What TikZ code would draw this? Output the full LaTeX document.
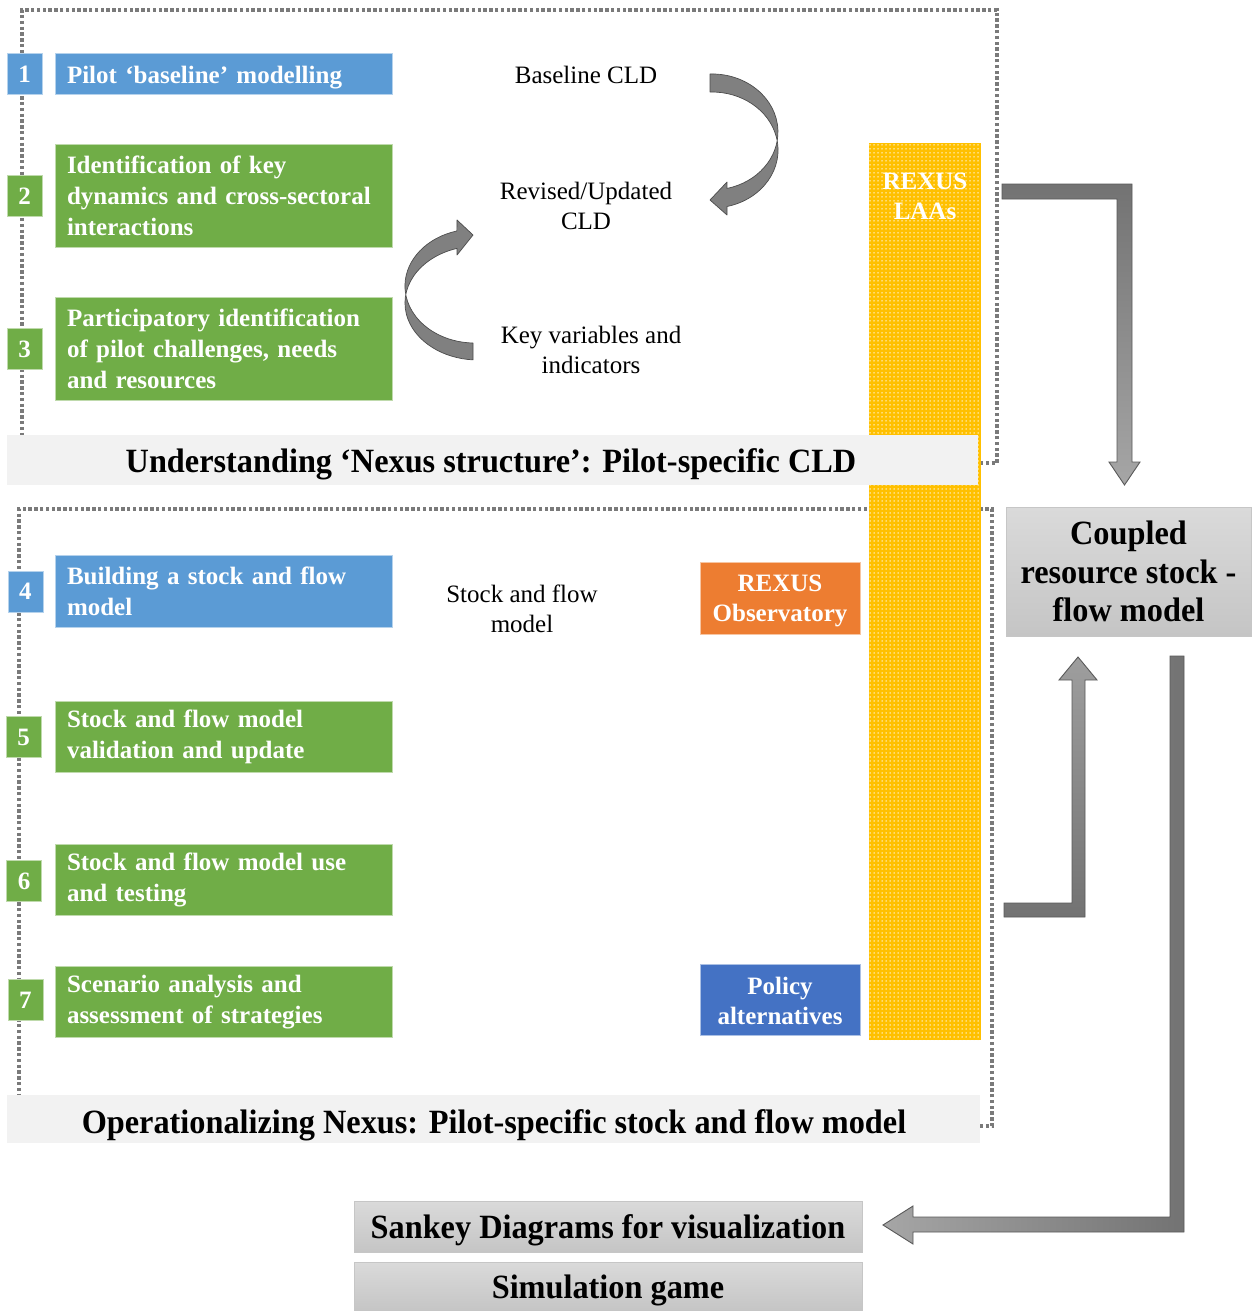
\documentclass[tikz,border=0pt]{standalone}
\usepackage{fontspec}
\setmainfont{Liberation Serif}
\newfontfamily\headfont{Liberation Serif}[FakeStretch=0.95]
\usetikzlibrary{patterns}

% white dot raster for the LAA column
\pgfdeclarepatternformonly{wdots}{\pgfpoint{-1pt}{-1pt}}{\pgfpoint{5pt}{5pt}}{\pgfpoint{4pt}{4pt}}%
  {\pgfpathcircle{\pgfpoint{2pt}{2pt}}{0.75pt}\pgfusepath{fill}}

\definecolor{stepblue}{HTML}{5B9BD5}
\definecolor{stepgreen}{HTML}{70AD47}
\definecolor{obsorange}{HTML}{ED7D31}
\definecolor{polblue}{HTML}{4472C4}
\definecolor{laayellow}{HTML}{FFC000}
\definecolor{barbg}{HTML}{F2F2F2}
\definecolor{dotgray}{HTML}{7A7A7A}
\definecolor{arrowgray}{HTML}{808080}
\definecolor{boxtop}{HTML}{DADADA}
\definecolor{boxbot}{HTML}{C5C5C5}

\tikzset{
  frameline/.style={draw=dotgray, line width=3.4pt, dash pattern=on 3.4pt off 2.4pt},
  stepbox/.style={draw=white!55!#1, line width=0.8pt, fill=#1, text=white,
    font=\bfseries\fontsize{25}{31}\selectfont, align=left,
    text width=313pt, inner xsep=12pt, inner ysep=0pt, minimum width=337pt},
  numbox/.style={draw=white!55!#1, line width=0.8pt, fill=#1, text=white,
    font=\bfseries\fontsize{25}{30}\selectfont,
    minimum width=35pt, minimum height=41pt, inner sep=0pt},
  tagbox/.style={fill=#1, draw=white!55!#1, line width=0.8pt,
    minimum width=160pt, inner sep=0pt},
  tagtext/.style={text=white, font=\bfseries\fontsize{25}{30}\selectfont,
    align=center, inner sep=0pt},
  titlebar/.style={fill=barbg, draw=none, inner sep=0pt},
  titletext/.style={inner sep=0pt, text height=26pt, text depth=0pt,
    font=\headfont\bfseries\fontsize{34}{38}\selectfont},
  plainlabel/.style={font=\fontsize{25}{30}\selectfont, align=center, inner sep=0pt},
  greybox/.style={top color=boxtop, bottom color=boxbot, draw=gray!45,
    line width=0.8pt, inner sep=0pt, align=center,
    font=\headfont\bfseries\fontsize{34}{38.5}\selectfont},
  curvearrow/.style={fill=arrowgray, draw=black!70, line width=0.7pt, line join=round},
  blockarrow/.style={draw=black!65, line width=0.9pt, line join=miter},
}

\begin{document}
\begin{tikzpicture}[x=1pt, y=-1pt]
\useasboundingbox (0,0) rectangle (1251,1311);

% dotted section frames
\draw[frameline] (980,463) -- (997,463) -- (997,10) -- (22,10) -- (22,440);
\draw[frameline] (980,1126) -- (992,1126) -- (992,509) -- (19,509) -- (19,1095);

% Local Action Agents column
\node[fill=laayellow, minimum width=112pt, minimum height=897pt, inner sep=0pt] (laa) at (925,591.5) {};
\fill[pattern=wdots, pattern color=white!92!laayellow] (laa.north west) rectangle (laa.south east);
\node[tagtext] (laatxt) at (925,196) {REXUS\\LAAs};

% section titles
\node[titlebar, minimum width=971pt, minimum height=50pt] (t1) at (492.5,460) {};
\node[titletext] (t1txt) at (491,459) {Understanding ‘Nexus structure’: Pilot-specific CLD};
\node[titlebar, minimum width=973pt, minimum height=48pt] (t2) at (493.5,1119) {};
\node[titletext] (t2txt) at (494,1120) {Operationalizing Nexus: Pilot-specific stock and flow model};

% numbered steps
\node[numbox=stepblue]  (n1) at (24.5,74)    {1};
\node[numbox=stepgreen] (n2) at (24.5,196)   {2};
\node[numbox=stepgreen] (n3) at (24.5,349)   {3};
\node[numbox=stepblue]  (n4) at (25.5,591.5) {4};
\node[numbox=stepgreen] (n5) at (23.5,737)   {5};
\node[numbox=stepgreen] (n6) at (24,881)     {6};
\node[numbox=stepgreen] (n7) at (25.5,1000)  {7};

\node[stepbox=stepblue,  minimum height=41pt, text height=21pt, text depth=1pt] (s1) at (223.5,74) {Pilot ‘baseline’ modelling};
\node[stepbox=stepgreen, minimum height=103pt] (s2) at (223.5,195.5) {Identification of key\\dynamics and cross-sectoral\\interactions};
\node[stepbox=stepgreen, minimum height=103pt] (s3) at (223.5,348.5) {Participatory identification\\of pilot challenges, needs\\and resources};
\node[stepbox=stepblue,  minimum height=72pt]  (s4) at (223.5,591.5) {Building a stock and flow\\model};
\node[stepbox=stepgreen, minimum height=71pt]  (s5) at (223.5,736.5) {Stock and flow model\\validation and update};
\node[stepbox=stepgreen, minimum height=71pt]  (s6) at (223.5,880)   {Stock and flow model use\\and testing};
\node[stepbox=stepgreen, minimum height=71pt]  (s7) at (223.5,1002)  {Scenario analysis and\\assessment of strategies};

% CLD cycle labels
\node[plainlabel] (base) at (586,75)  {Baseline CLD};
\node[plainlabel] (rev)  at (586,206) {Revised/Updated\\CLD};
\node[plainlabel] (key)  at (591,350) {Key variables and\\indicators};
\node[plainlabel] (sfm)  at (522,609) {Stock and flow\\model};

% curved arrow: baseline -> revised
\draw[curvearrow] (710,74)
  arc[start angle=-91.7, end angle=76.9, x radius=66, y radius=58]
  -- (727,182) -- (710,200) -- (727,215) -- (727,206.5)
  arc[start angle=76.9, end angle=-91.7, x radius=66, y radius=58]
  -- cycle;

% curved arrow: key variables -> revised
\draw[curvearrow] (473,343)
  arc[start angle=91.6, end angle=255, x radius=70, y radius=57]
  -- (457,220) -- (473,235) -- (457,255) -- (457,248.4)
  arc[start angle=253.3, end angle=93.9, x radius=73, y radius=57]
  -- cycle;

% observatory and policy tags
\node[tagbox=obsorange, minimum height=72pt] (obs) at (780,598) {};
\node[tagtext] (obstxt) at (780,601) {REXUS\\Observatory};
\node[tagbox=polblue, minimum height=71pt] (pol) at (780,999.5) {};
\node[tagtext] (poltxt) at (780,1000.5) {Policy\\alternatives};

% coupled model and outputs
\node[greybox, minimum width=245pt, minimum height=129pt] (cpl) at (1128.5,571.5)
  {Coupled\\resource stock -\\flow model};
\node[greybox, minimum width=508pt, minimum height=51pt, text height=25pt, text depth=2pt] (sank) at (608,1226.5)
  {Sankey Diagrams for visualization};
\node[greybox, minimum width=508pt, minimum height=49pt, text height=25pt, text depth=2pt] (game) at (608,1286.5)
  {Simulation game};

% block arrows
\draw[blockarrow, top color=black!55, bottom color=black!35]
  (1002,184) -- (1132,184) -- (1132,462) -- (1140,462) -- (1124.5,485)
  -- (1109,462) -- (1117,462) -- (1117,199) -- (1002,199) -- cycle;
\draw[blockarrow, top color=black!38, bottom color=black!55]
  (1004,903) -- (1072,903) -- (1072,680) -- (1059,680) -- (1078,657)
  -- (1097,680) -- (1085,680) -- (1085,917) -- (1004,917) -- cycle;
\draw[blockarrow, left color=black!35, right color=black!55]
  (1170,656) -- (1184,656) -- (1184,1232) -- (913,1232) -- (913,1244)
  -- (883,1225) -- (913,1206) -- (913,1217) -- (1170,1217) -- cycle;

\end{tikzpicture}
\end{document}
